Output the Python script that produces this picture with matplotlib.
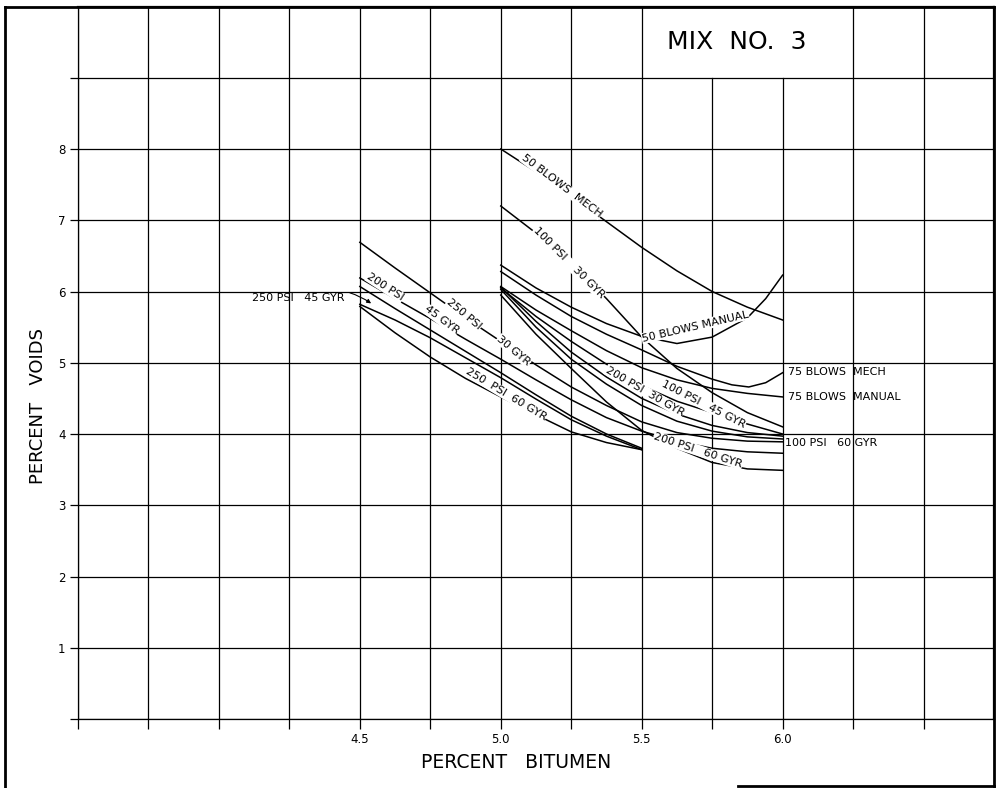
import matplotlib
matplotlib.use("Agg")
import matplotlib.pyplot as plt
from matplotlib.lines import Line2D
import numpy as np

# percent bitumen positions
x_right = [5.0, 5.125, 5.25, 5.375, 5.5, 5.625, 5.75, 5.875, 6.0]
x_left = [4.5, 4.625, 4.75, 4.875, 5.0, 5.125, 5.25, 5.375, 5.5]
x_left_long = [4.5, 4.625, 4.75, 4.875, 5.0, 5.125, 5.25, 5.375, 5.5, 5.625, 5.75, 5.875, 6.0]

# curves starting at 5.0
blows50_mech = [8.0, 7.68, 7.34, 6.98, 6.62, 6.29, 6.0, 5.78, 5.6]
psi100_gyr30 = [7.2, 6.82, 6.4, 5.9, 5.36, 4.92, 4.58, 4.3, 4.1]
x_b50_man = [5.0, 5.125, 5.25, 5.375, 5.5, 5.625, 5.75, 5.875, 5.94, 6.0]
blows50_man = [6.37, 6.05, 5.78, 5.55, 5.37, 5.27, 5.36, 5.63, 5.9, 6.23]
x_b75_mech = [5.0, 5.125, 5.25, 5.375, 5.5, 5.625, 5.75, 5.82, 5.88, 5.94, 6.0]
blows75_mech = [6.28, 5.95, 5.65, 5.4, 5.18, 4.95, 4.77, 4.69, 4.66, 4.72, 4.86]
blows75_man = [6.07, 5.74, 5.45, 5.17, 4.93, 4.76, 4.64, 4.57, 4.52]
psi100_gyr45 = [6.05, 5.65, 5.3, 4.98, 4.68, 4.46, 4.3, 4.14, 4.0]
psi200_gyr30 = [6.06, 5.58, 5.15, 4.8, 4.5, 4.28, 4.12, 4.02, 3.97]
psi100_gyr60 = [6.03, 5.5, 5.05, 4.7, 4.4, 4.18, 4.04, 3.96, 3.93]
psi200_gyr60 = [5.95, 5.4, 4.92, 4.45, 4.05, 3.8, 3.6, 3.51, 3.49]

# curves starting at 4.5
psi250_gyr30 = [6.69, 6.33, 5.98, 5.63, 5.3, 4.97, 4.66, 4.4, 4.17, 4.02, 3.94, 3.9, 3.89]
psi200_gyr45 = [6.19, 5.9, 5.62, 5.33, 5.05, 4.76, 4.48, 4.23, 4.04, 3.9, 3.8, 3.75, 3.73]
psi200_extra = [6.07, 5.76, 5.46, 5.16, 4.86, 4.55, 4.25, 4.0, 3.8]
psi250_gyr45 = [5.82, 5.6, 5.35, 5.07, 4.79, 4.49, 4.2, 3.97, 3.78]
psi250_gyr60 = [5.79, 5.42, 5.08, 4.78, 4.52, 4.27, 4.03, 3.88, 3.78]

x_ticks = np.arange(3.5, 6.51, 0.25)
x_labels = {4.5: "4.5", 5.0: "5.0", 5.5: "5.5", 6.0: "6.0"}
y_ticks = list(range(0, 10))
y_labels = ["", "1", "2", "3", "4", "5", "6", "7", "8", ""]

fig = plt.figure(figsize=(9.97, 7.88), dpi=100)
ax = fig.add_axes([78 / 997, 1 - 719 / 788, (994 - 78) / 997, (719 - 6.5) / 788])
ax.set_xlim(3.5, 6.75)
ax.set_ylim(0, 10)

# grid drawn by hand so the title box can break it
for xv in x_ticks:
    top = 9 if xv in (5.75, 6.0) else 10
    ax.plot([xv, xv], [0, top], color="black", lw=0.9, zorder=1)
for yv in range(0, 10):
    ax.plot([3.5, 6.75], [yv, yv], color="black", lw=0.9, zorder=1)

for s in ["left", "bottom"]:
    ax.spines[s].set_linewidth(0.9)
ax.spines["top"].set_linewidth(1.6)
ax.spines["right"].set_linewidth(1.6)

ax.set_xticks(x_ticks)
ax.set_xticklabels([x_labels.get(round(v, 2), "") for v in x_ticks], fontsize=8.5)
ax.set_yticks(y_ticks)
ax.set_yticklabels(y_labels, fontsize=8.5)
ax.tick_params(axis="x", direction="out", length=7, width=0.9, pad=3)
ax.tick_params(axis="y", direction="out", length=6, width=0.9, pad=3)

kw = dict(color="black", lw=1.1, zorder=3)
ax.plot(x_right, blows50_mech, **kw)
ax.plot(x_right, psi100_gyr30, **kw)
ax.plot(x_b50_man, blows50_man, **kw)
ax.plot(x_b75_mech, blows75_mech, **kw)
ax.plot(x_right, blows75_man, **kw)
ax.plot(x_right, psi100_gyr45, **kw)
ax.plot(x_right, psi200_gyr30, **kw)
ax.plot(x_right, psi100_gyr60, **kw)
ax.plot(x_right, psi200_gyr60, **kw)
ax.plot(x_left_long, psi250_gyr30, **kw)
ax.plot(x_left_long, psi200_gyr45, **kw)
ax.plot(x_left, psi200_extra, **kw)
ax.plot(x_left, psi250_gyr45, **kw)
ax.plot(x_left, psi250_gyr60, **kw)

# curve labels break the lines they sit on
box = dict(boxstyle="square,pad=0.05", fc="white", ec="none")
lab = dict(fontsize=8, ha="center", va="center", rotation_mode="anchor", zorder=4, bbox=box)
ax.text(5.216, 7.48, "50 BLOWS  MECH", rotation=-37, **lab)
ax.text(5.241, 6.40, "100 PSI    30 GYR", rotation=-45, **lab)
ax.text(5.69, 5.51, "50 BLOWS MANUAL", rotation=13, **lab)
ax.text(4.59, 6.06, "200 PSI", rotation=-33, **lab)
ax.text(4.79, 5.60, "45 GYR", rotation=-37, **lab)
ax.text(4.87, 5.68, "250 PSI", rotation=-40, **lab)
ax.text(5.046, 5.17, "30 GYR", rotation=-40, **lab)
ax.text(5.018, 4.56, "250  PSI  60 GYR", rotation=-31, **lab)
ax.text(5.51, 4.60, "200 PSI  30 GYR", rotation=-30, **lab)
ax.text(5.72, 4.42, "100 PSI   45 GYR", rotation=-27, **lab)
ax.text(5.70, 3.77, "200 PSI   60 GYR", rotation=-18, **lab)

side = dict(fontsize=8, ha="left", va="center")
ax.text(6.018, 4.87, "75 BLOWS  MECH", **side)
ax.text(6.018, 4.52, "75 BLOWS  MANUAL", **side)
ax.text(6.01, 3.87, "100 PSI   60 GYR", **side)

ax.annotate("250 PSI   45 GYR", xy=(4.548, 5.81), xytext=(4.445, 5.91),
            ha="right", va="center", fontsize=8,
            arrowprops=dict(arrowstyle="-|>", connectionstyle="arc3,rad=-0.3",
                            lw=0.8, color="black", mutation_scale=6))

ax.text(5.837, 9.5, "MIX  NO.  3", fontsize=18, ha="center", va="center")

fig.text(516 / 997, 1 - 763 / 788, "PERCENT   BITUMEN", fontsize=13.5, ha="center", va="center")
fig.text(38 / 997, 1 - 406 / 788, "PERCENT   VOIDS", fontsize=13, ha="center", va="center",
         rotation=90)

# page frame
frame = dict(color="black", lw=2, transform=fig.transFigure)
fig.add_artist(Line2D([5 / 997, 5 / 997], [0, 1 - 7 / 788], **frame))
fig.add_artist(Line2D([5 / 997, 994 / 997], [1 - 7 / 788, 1 - 7 / 788], **frame))
fig.add_artist(Line2D([994 / 997, 994 / 997], [1 - 7 / 788, 1 - 786 / 788], **frame))
fig.add_artist(Line2D([738 / 997, 994 / 997], [1 - 786 / 788, 1 - 786 / 788], **frame))

fig.savefig("out.png", dpi=100)
